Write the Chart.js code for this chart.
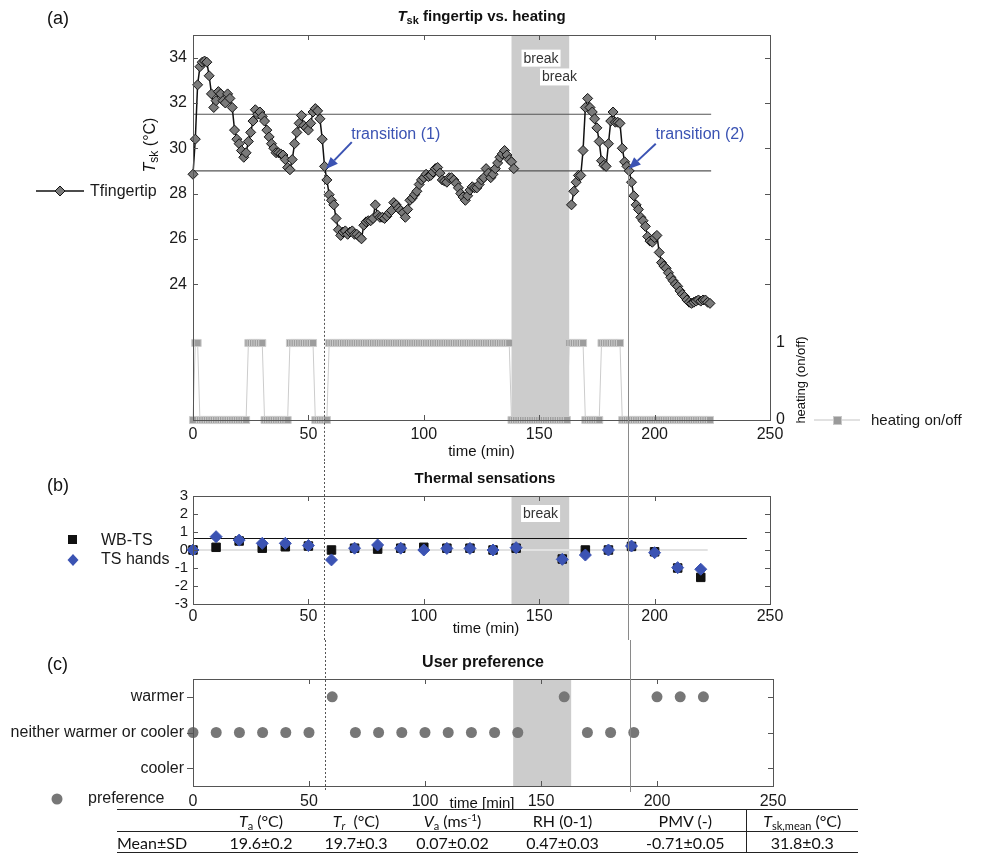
<!DOCTYPE html>
<html><head><meta charset="utf-8">
<script src="https://cdn.jsdelivr.net/npm/chart.js@4.4.0/dist/chart.umd.min.js"></script>
<style>
html,body{margin:0;padding:0;background:#fff;width:991px;height:855px;overflow:hidden;position:relative;font-family:"Liberation Sans",Arial,sans-serif;}
canvas{position:absolute;left:0;}
#ca{top:0}#cb{top:462px}#cc{top:640px}
#tbl{position:absolute;left:117px;top:809px;width:741px;border-collapse:collapse;font-family:Lato,"Open Sans",sans-serif;font-size:16px;color:#111;table-layout:fixed;}
#tbl th,#tbl td{padding:0;text-align:center;font-weight:normal;white-space:nowrap;}
#tbl tr.h th{height:21px;border-top:1.5px solid #222;border-bottom:1px solid #222;}
#tbl tr.b td{height:20px;border-bottom:1px solid #222;}
#tbl .l{text-align:left;}
#tbl .sep{border-left:1px solid #222;}
#tbl sub{font-size:11px;vertical-align:-3px;line-height:0;}
#tbl sup{font-size:10px;vertical-align:6px;line-height:0;}
</style></head>
<body>
<canvas id="ca" width="991" height="462"></canvas>
<canvas id="cb" width="991" height="178"></canvas>
<canvas id="cc" width="991" height="170"></canvas>
<table id="tbl">
<colgroup><col style="width:98px"><col style="width:92px"><col style="width:98px"><col style="width:95px"><col style="width:125px"><col style="width:121px"><col style="width:112px"></colgroup>
<tr class="h"><th></th><th><i>T</i><sub>a</sub> (°C)</th><th><i>T</i><sub><i>r</i></sub> &nbsp;(°C)</th><th><i>V</i><sub>a</sub> (ms<sup>-1</sup>)</th><th>RH (0-1)</th><th>PMV (-)</th><th class="sep"><i>T</i><sub>sk,mean</sub> (°C)</th></tr>
<tr class="b"><td class="l">Mean±SD</td><td>19.6±0.2</td><td>19.7±0.3</td><td>0.07±0.02</td><td>0.47±0.03</td><td>-0.71±0.05</td><td class="sep">31.8±0.3</td></tr>
</table>
<script>
// ---------- DATA ----------
// Fingertip skin temperature, one value per minute (index = minute); null = break (no data)
const tFingertip = [
28.85,30.4,32.8,33.6,33.8,33.85,33.8,33.2,32.4,31.8,
32.1,32.5,32.4,32.1,32.0,32.4,32.2,31.8,30.8,30.4,
30.2,29.9,29.6,29.8,30.3,30.7,31.2,31.7,31.5,31.6,
31.4,31.2,30.8,30.5,30.2,30.0,29.8,29.8,29.75,29.7,
29.5,29.15,29.05,29.5,30.2,30.7,31.1,31.45,31.0,30.9,
30.8,31.1,31.6,31.75,31.65,31.3,30.4,29.2,28.6,27.95,
27.7,27.5,26.9,26.4,26.15,26.3,26.35,26.2,26.3,26.35,
26.2,26.2,26.1,26.0,26.6,26.75,26.8,26.8,26.9,27.5,
27.05,26.95,26.95,26.9,27.0,27.15,27.25,27.6,27.5,27.35,
27.25,27.15,26.95,27.3,27.7,27.8,27.95,28.1,28.4,28.6,
28.7,28.85,28.75,28.8,28.95,29.1,29.15,28.9,28.6,28.55,
28.5,28.7,28.7,28.6,28.45,28.25,28.0,27.85,27.7,27.9,
28.15,28.3,28.25,28.25,28.4,28.6,28.7,29.1,28.9,28.7,
28.85,29.1,29.35,29.6,29.75,29.9,29.7,29.5,29.4,29.1,
null,null,null,null,null,null,null,null,null,null,
null,null,null,null,null,null,null,null,null,null,
null,null,null,null,27.5,28.1,28.5,28.8,28.8,29.9,
31.8,32.2,31.8,31.6,31.3,30.9,30.3,29.45,29.25,29.2,
30.2,31.2,31.6,31.15,31.15,31.1,30.0,29.4,29.2,29.0,
28.5,27.9,27.5,27.3,26.95,26.8,26.55,26.1,25.9,25.85,
26.05,26.15,25.4,24.95,24.8,24.7,24.5,24.3,24.15,24.0,
23.9,23.7,23.55,23.45,23.3,23.2,23.15,23.2,23.25,23.3,
23.25,23.3,23.3,23.2,23.15];
// Heating on/off, one value per minute (index = minute)
const heatingOnOff = [
0,1,1,0,0,0,0,0,0,0,
0,0,0,0,0,0,0,0,0,0,
0,0,0,0,1,1,1,1,1,1,
1,0,0,0,0,0,0,0,0,0,
0,0,1,1,1,1,1,1,1,1,
1,1,1,0,0,0,0,0,0,1,
1,1,1,1,1,1,1,1,1,1,
1,1,1,1,1,1,1,1,1,1,
1,1,1,1,1,1,1,1,1,1,
1,1,1,1,1,1,1,1,1,1,
1,1,1,1,1,1,1,1,1,1,
1,1,1,1,1,1,1,1,1,1,
1,1,1,1,1,1,1,1,1,1,
1,1,1,1,1,1,1,1,0,0,
0,0,0,0,0,0,0,0,0,0,
0,0,0,0,0,0,0,0,0,0,
0,0,0,1,1,1,1,1,1,1,
0,0,0,0,0,0,0,1,1,1,
1,1,1,1,1,1,0,0,0,0,
0,0,0,0,0,0,0,0,0,0,
0,0,0,0,0,0,0,0,0,0,
0,0,0,0,0,0,0,0,0,0,
0,0,0,0,0];
const thresholds = [31.5, 29.0];
const breakSpan = [138, 163];
const transitions = [56.8, 188.5];
// Thermal sensations (every 10 min)
const tsTimes = [0,10,20,30,40,50,60,70,80,90,100,110,120,130,140,160,170,180,190,200,210,220];
const wbTS    = [0,0.15,0.5,0.1,0.18,0.22,0,0.1,0.05,0.1,0.15,0.1,0.1,0,0.1,-0.5,0,0,0.2,-0.1,-1.0,-1.52];
const tsHands = [0,0.74,0.55,0.37,0.37,0.25,-0.55,0.1,0.28,0.1,0,0.09,0.09,0,0.13,-0.52,-0.28,0,0.22,-0.15,-0.98,-1.07];
const tsRefLine = 0.65;
// User preference
const prefValues = [0,0,0,0,0,0,1,0,0,0,0,0,0,0,0,1,0,0,0,1,1,1];
const prefCategories = ['cooler','neither warmer or cooler','warmer'];  // -1, 0, 1
// Tick labels
const xTicks = [0,50,100,150,200,250];
const tempTicks = [24,26,28,30,32,34];
const heatTicks = [0,1];
const tsTicks = [-3,-2,-1,0,1,2,3];

// ---------- HELPERS ----------
const FF = '"Liberation Sans", Arial, sans-serif';
const TXT = '#1a1a1a';
const BLUE = '#3b53b3';
function rich(ctx, parts, x, y, align){
  let w=0; parts.forEach(p=>{ctx.font=p[1]; w+=ctx.measureText(p[0]).width;});
  let cx = align==='center'? x-w/2 : (align==='right'? x-w : x);
  ctx.textBaseline='middle'; ctx.textAlign='left';
  parts.forEach(p=>{ctx.font=p[1]; ctx.fillText(p[0], cx, y+(p[2]||0)); cx+=ctx.measureText(p[0]).width;});
}
function frame(chart, spec){
  const ctx=chart.ctx, a=chart.chartArea, L=5;
  ctx.save(); ctx.strokeStyle='#555'; ctx.lineWidth=1;
  ctx.strokeRect(Math.round(a.left)+0.5, Math.round(a.top)+0.5, Math.round(a.right-a.left), Math.round(a.bottom-a.top));
  ctx.beginPath();
  xTicks.forEach(v=>{const p=Math.round(chart.scales.x.getPixelForValue(v))+0.5;
    ctx.moveTo(p,a.bottom); ctx.lineTo(p,a.bottom-L); ctx.moveTo(p,a.top); ctx.lineTo(p,a.top+L);});
  spec.yl.forEach(v=>{const p=Math.round(chart.scales.y.getPixelForValue(v))+0.5;
    if(spec.outLeft){ctx.moveTo(a.left,p); ctx.lineTo(a.left-L-1,p);} else {ctx.moveTo(a.left,p); ctx.lineTo(a.left+L,p);}
    ctx.moveTo(a.right,p); ctx.lineTo(a.right-L,p);});
  if(spec.yr) spec.yr.forEach(v=>{const p=Math.round(chart.scales.y2.getPixelForValue(v))+0.5; ctx.moveTo(a.right,p); ctx.lineTo(a.right+L,p);});
  ctx.stroke(); ctx.restore();
}
function band(chart){
  const ctx=chart.ctx, a=chart.chartArea, x=chart.scales.x;
  const x0=x.getPixelForValue(breakSpan[0]), x1=x.getPixelForValue(breakSpan[1]);
  ctx.save(); ctx.fillStyle='#cccccc'; ctx.fillRect(x0,a.top,x1-x0,a.bottom-a.top); ctx.restore();
}
function vlines(chart, yTopFn, yBot){
  const ctx=chart.ctx, x=chart.scales.x;
  transitions.forEach((t,i)=>{
    const p=Math.round(x.getPixelForValue(t))+0.5;
    ctx.save(); ctx.lineWidth=1;
    if(i===0){ctx.strokeStyle='#555'; ctx.setLineDash([2,2]);} else {ctx.strokeStyle='#8a8a8a';}
    ctx.beginPath(); ctx.moveTo(p,yTopFn(t)); ctx.lineTo(p,yBot); ctx.stroke(); ctx.restore();
  });
}
function breakLabel(ctx, text, cx, cy, size){
  ctx.save(); ctx.font=size+'px '+FF; const w=ctx.measureText(text).width;
  ctx.fillStyle='#fff'; ctx.fillRect(cx-w/2-2, cy-size/2-1, w+4, size+3);
  ctx.fillStyle='#333'; ctx.textAlign='center'; ctx.textBaseline='middle'; ctx.fillText(text,cx,cy+1); ctx.restore();
}
function arrow(ctx, x0,y0,x1,y1){
  ctx.save(); ctx.strokeStyle=BLUE; ctx.fillStyle=BLUE; ctx.lineWidth=2;
  const ang=Math.atan2(y1-y0,x1-x0), hl=12, hw=5;
  const bx=x1-hl*Math.cos(ang), by=y1-hl*Math.sin(ang);
  ctx.beginPath(); ctx.moveTo(x0,y0); ctx.lineTo(bx,by); ctx.stroke();
  ctx.beginPath(); ctx.moveTo(x1,y1);
  ctx.lineTo(bx+hw*Math.sin(ang), by-hw*Math.cos(ang));
  ctx.lineTo(bx-hw*Math.sin(ang), by+hw*Math.cos(ang)); ctx.closePath(); ctx.fill(); ctx.restore();
}
function xAxis(h, pad){
  return {type:'linear', min:0, max:250, afterBuildTicks:s=>{s.ticks=xTicks.map(v=>({value:v}));},
    ticks:{font:{family:FF,size:16}, color:TXT, padding:pad, maxRotation:0, autoSkip:false},
    grid:{display:false, drawTicks:false}, border:{display:false}, afterFit:s=>{s.height=h;}};
}
Chart.defaults.animation=false;
Chart.defaults.responsive=false;
Chart.defaults.devicePixelRatio=1;
Chart.defaults.plugins.legend.display=false;
Chart.defaults.plugins.tooltip.enabled=false;

// ---------- PANEL A ----------
const annA = {
  id:'annA',
  beforeDatasetsDraw(chart){
    const ctx=chart.ctx, x=chart.scales.x, y=chart.scales.y;
    band(chart);
    ctx.save(); ctx.strokeStyle='#555'; ctx.lineWidth=1.2;
    thresholds.forEach(v=>{const p=y.getPixelForValue(v); ctx.beginPath(); ctx.moveTo(x.getPixelForValue(0),p); ctx.lineTo(x.getPixelForValue(224.5),p); ctx.stroke();});
    ctx.restore();
  },
  afterDraw(chart){
    const ctx=chart.ctx, x=chart.scales.x, y=chart.scales.y, a=chart.chartArea;
    frame(chart,{yl:tempTicks, yr:[]});
    vlines(chart, ()=>y.getPixelForValue(29.0), chart.height);
    breakLabel(ctx,'break', x.getPixelForValue(150.8), y.getPixelForValue(34.0), 14);
    breakLabel(ctx,'break', x.getPixelForValue(158.8), y.getPixelForValue(33.17), 14);
    // transitions
    ctx.save(); ctx.fillStyle=BLUE; ctx.font='16px '+FF; ctx.textBaseline='middle'; ctx.textAlign='left';
    ctx.fillText('transition (1)', x.getPixelForValue(68.6), y.getPixelForValue(30.6));
    ctx.fillText('transition (2)', x.getPixelForValue(200.4), y.getPixelForValue(30.6));
    ctx.restore();
    arrow(ctx, x.getPixelForValue(68.8), y.getPixelForValue(30.27), x.getPixelForValue(57.6), y.getPixelForValue(29.08));
    arrow(ctx, x.getPixelForValue(200.5), y.getPixelForValue(30.2), x.getPixelForValue(188.8), y.getPixelForValue(29.08));
    // titles
    ctx.save(); ctx.fillStyle='#111';
    rich(ctx, [['T','italic bold 15px '+FF],['sk','bold 11px '+FF,4],[' fingertip vs. heating','bold 15px '+FF]], (a.left+a.right)/2, 17, 'center');
    ctx.font='18px '+FF; ctx.textAlign='left'; ctx.textBaseline='middle'; ctx.fillText('(a)',47,19);
    ctx.font='15px '+FF; ctx.textAlign='center'; ctx.fillText('time (min)', (a.left+a.right)/2, 452);
    ctx.save(); ctx.translate(151,145); ctx.rotate(-Math.PI/2);
    rich(ctx, [['T','italic 16px '+FF],['sk','12px '+FF,4],[' (°C)','16px '+FF]], 0, 0, 'center');
    ctx.restore();
    ctx.save(); ctx.translate(801,380); ctx.rotate(-Math.PI/2);
    ctx.font='13px '+FF; ctx.textAlign='center'; ctx.textBaseline='middle'; ctx.fillText('heating (on/off)',0,0);
    ctx.restore();
    // legend Tfingertip
    ctx.strokeStyle='#111'; ctx.lineWidth=1.5; ctx.beginPath(); ctx.moveTo(36,191); ctx.lineTo(84,191); ctx.stroke();
    ctx.fillStyle='#7a7a7a'; ctx.strokeStyle='#111'; ctx.lineWidth=1;
    ctx.beginPath(); ctx.moveTo(60,186); ctx.lineTo(65,191); ctx.lineTo(60,196); ctx.lineTo(55,191); ctx.closePath(); ctx.fill(); ctx.stroke();
    ctx.fillStyle=TXT; ctx.font='16px '+FF; ctx.textAlign='left'; ctx.fillText('Tfingertip',90,192);
    // legend heating
    ctx.strokeStyle='#c4c4c4'; ctx.lineWidth=1; ctx.beginPath(); ctx.moveTo(814,420); ctx.lineTo(860,420); ctx.stroke();
    ctx.fillStyle='#9a9a9a'; ctx.strokeStyle='#c8c8c8'; ctx.fillRect(834,417,7,7); ctx.strokeRect(833.5,416.5,8,8);
    ctx.fillStyle=TXT; ctx.font='15px '+FF; ctx.fillText('heating on/off',871,421);
    ctx.restore();
  }
};
new Chart(document.getElementById('ca'), {
  type:'line',
  data:{datasets:[
    {label:'Tfingertip', data:tFingertip.map((v,i)=>({x:i,y:v})), yAxisID:'y', borderColor:'#111', borderWidth:1.5, clip:false,
     pointStyle:'rectRot', pointRadius:5, pointBackgroundColor:'#7a7a7a', pointBorderColor:'#111', pointBorderWidth:1, spanGaps:false, tension:0},
    {label:'heating on/off', data:heatingOnOff.map((v,i)=>({x:i,y:v})), yAxisID:'y2', borderColor:'#cccccc', borderWidth:1, clip:false,
     pointStyle:'rect', pointRadius:5, pointBackgroundColor:'#9d9d9d', pointBorderColor:'#cdcdcd', pointBorderWidth:1, tension:0}
  ]},
  options:{
    layout:{padding:{top:35,left:0,right:0,bottom:0}},
    scales:{
      x:xAxis(42,5),
      y:{type:'linear', position:'left', min:18, max:35, afterBuildTicks:s=>{s.ticks=tempTicks.map(v=>({value:v}));},
         ticks:{font:{family:FF,size:16}, color:TXT, padding:6, autoSkip:false}, grid:{display:false, drawTicks:false}, border:{display:false}, afterFit:s=>{s.width=193;}},
      y2:{type:'linear', position:'right', min:0, max:5, afterBuildTicks:s=>{s.ticks=heatTicks.map(v=>({value:v}));},
         ticks:{font:{family:FF,size:16}, color:TXT, padding:6, autoSkip:false}, grid:{display:false, drawTicks:false}, border:{display:false}, afterFit:s=>{s.width=221;}}
    }
  },
  plugins:[annA]
});

// ---------- PANEL B ----------
const annB = {
  id:'annB',
  beforeDatasetsDraw(chart){
    const ctx=chart.ctx, x=chart.scales.x, y=chart.scales.y;
    band(chart);
    ctx.save();
    ctx.strokeStyle='#e2e2e2'; ctx.lineWidth=2; ctx.beginPath(); ctx.moveTo(x.getPixelForValue(0),y.getPixelForValue(0)); ctx.lineTo(x.getPixelForValue(223),y.getPixelForValue(0)); ctx.stroke();
    ctx.strokeStyle='#111'; ctx.lineWidth=1; ctx.beginPath(); const p=Math.round(y.getPixelForValue(tsRefLine))+0.5; ctx.moveTo(x.getPixelForValue(0),p); ctx.lineTo(x.getPixelForValue(240),p); ctx.stroke();
    ctx.restore();
    breakLabel(ctx,'break', x.getPixelForValue(150.6), chart.chartArea.top+17, 14);
  },
  afterDraw(chart){
    const ctx=chart.ctx, a=chart.chartArea;
    frame(chart,{yl:tsTicks});
    vlines(chart, ()=>0, chart.height);
    ctx.save(); ctx.fillStyle='#111';
    ctx.font='bold 15px '+FF; ctx.textAlign='center'; ctx.textBaseline='middle'; ctx.fillText('Thermal sensations', 485, 17);
    ctx.font='18px '+FF; ctx.textAlign='left'; ctx.fillText('(b)',47,24);
    ctx.font='15px '+FF; ctx.textAlign='center'; ctx.fillText('time (min)', 486, 167);
    // legend
    ctx.fillStyle='#111'; ctx.fillRect(68,73,9,9);
    ctx.fillStyle=BLUE; ctx.beginPath(); ctx.moveTo(73,92); ctx.lineTo(78.5,98); ctx.lineTo(73,104); ctx.lineTo(67.5,98); ctx.closePath(); ctx.fill();
    ctx.fillStyle=TXT; ctx.font='16px '+FF; ctx.textAlign='left'; ctx.fillText('WB-TS',101,79); ctx.fillText('TS hands',101,98);
    ctx.restore();
  }
};
new Chart(document.getElementById('cb'), {
  type:'scatter',
  data:{datasets:[
    {label:'TS hands', data:tsTimes.map((t,i)=>({x:t,y:tsHands[i]})), clip:false, pointStyle:'rectRot', pointRadius:6, pointBackgroundColor:BLUE, pointBorderColor:BLUE, pointBorderWidth:1},
    {label:'WB-TS', data:tsTimes.map((t,i)=>({x:t,y:wbTS[i]})), clip:false, pointStyle:'rect', pointRadius:6, pointBackgroundColor:'#111', pointBorderColor:'#111', pointBorderWidth:1}
  ]},
  options:{
    layout:{padding:{top:34,left:0,right:221,bottom:0}},
    scales:{
      x:xAxis(36,3),
      y:{type:'linear', min:-3, max:3, afterBuildTicks:s=>{s.ticks=tsTicks.map(v=>({value:v}));},
         ticks:{font:{family:FF,size:15}, color:TXT, padding:5, autoSkip:false}, grid:{display:false, drawTicks:false}, border:{display:false}, afterFit:s=>{s.width=193;}}
    }
  },
  plugins:[annB]
});

// ---------- PANEL C ----------
const annC = {
  id:'annC',
  beforeDatasetsDraw(chart){ band(chart); },
  afterDraw(chart){
    const ctx=chart.ctx, a=chart.chartArea;
    frame(chart,{yl:[-1,0,1], outLeft:true});
    vlines(chart, ()=>0, a.bottom+6);
    ctx.save(); ctx.fillStyle='#111';
    ctx.font='bold 16px '+FF; ctx.textAlign='center'; ctx.textBaseline='middle'; ctx.fillText('User preference', 483, 23);
    ctx.font='18px '+FF; ctx.textAlign='left'; ctx.fillText('(c)',47,25);
    ctx.font='15px '+FF; ctx.textAlign='center'; ctx.fillText('time [min]', 482, 164);
    ctx.fillStyle='#777'; ctx.beginPath(); ctx.arc(57,159,5.5,0,Math.PI*2); ctx.fill();
    ctx.fillStyle=TXT; ctx.font='16px '+FF; ctx.textAlign='left'; ctx.fillText('preference',88,159);
    ctx.restore();
  }
};
new Chart(document.getElementById('cc'), {
  type:'scatter',
  data:{datasets:[
    {label:'preference', data:tsTimes.map((t,i)=>({x:t,y:prefValues[i]})), clip:false, pointStyle:'circle', pointRadius:5.5, pointBackgroundColor:'#777', pointBorderColor:'#777', pointBorderWidth:0}
  ]},
  options:{
    layout:{padding:{top:39,left:0,right:218,bottom:0}},
    scales:{
      x:xAxis(24,6),
      y:{type:'linear', min:-1.5, max:1.5, afterBuildTicks:s=>{s.ticks=[-1,0,1].map(v=>({value:v}));},
         ticks:{font:{family:FF,size:16}, color:TXT, padding:9, autoSkip:false, callback:v=>prefCategories[v+1]}, grid:{display:false, drawTicks:false}, border:{display:false}, afterFit:s=>{s.width=193;}}
    }
  },
  plugins:[annC]
});
</script>
</body></html>
